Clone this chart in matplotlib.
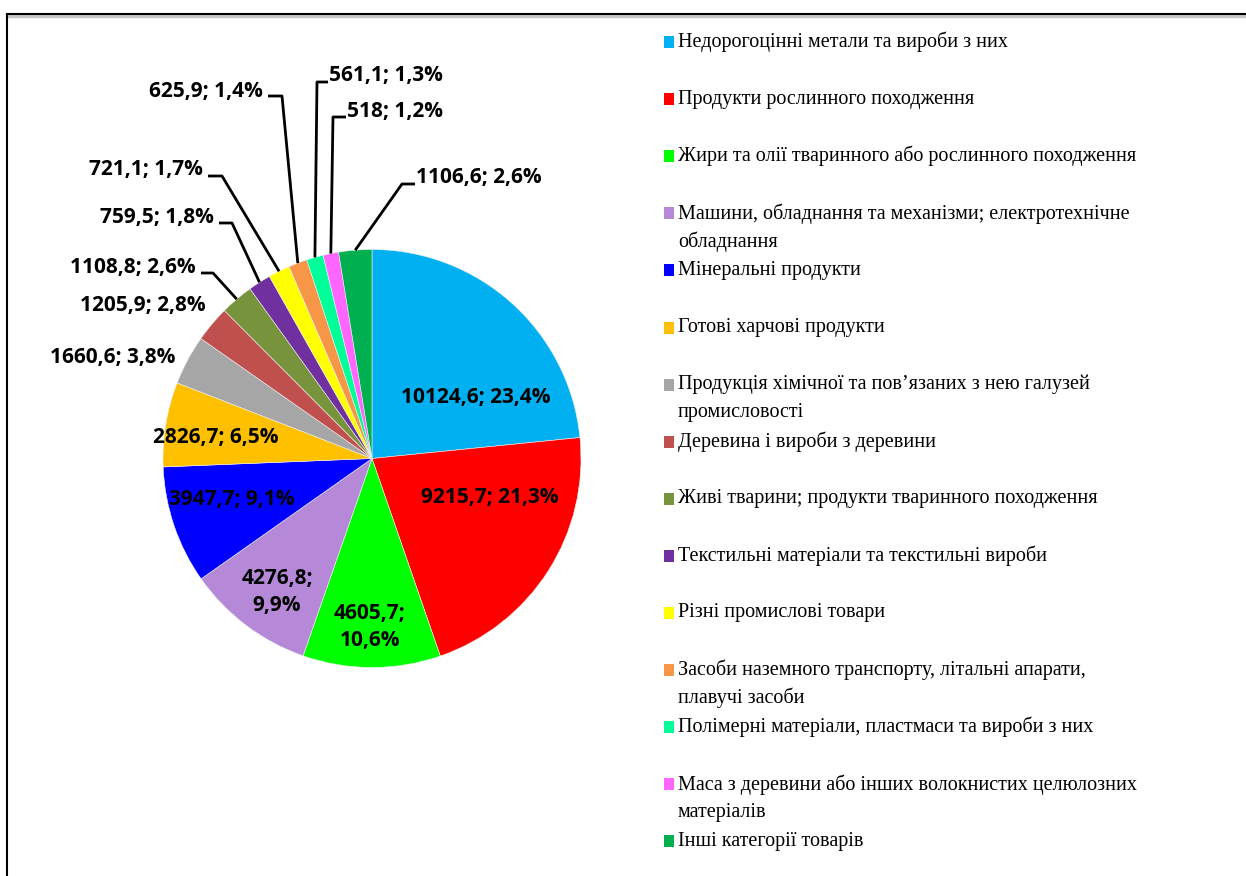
import numpy as np
import matplotlib.pyplot as plt
from matplotlib.lines import Line2D
from matplotlib.patches import Rectangle

W, H = 1246, 876

categories = [
    'Недорогоцінні метали та вироби з них',
    'Продукти рослинного походження',
    'Жири та олії тваринного або рослинного походження',
    'Машини, обладнання та механізми; електротехнічне\nобладнання',
    'Мінеральні продукти',
    'Готові харчові продукти',
    'Продукція хімічної та пов’язаних з нею галузей\nпромисловості',
    'Деревина і вироби з деревини',
    'Живі тварини; продукти тваринного походження',
    'Текстильні матеріали та текстильні вироби',
    'Різні промислові товари',
    'Засоби наземного транспорту, літальні апарати,\nплавучі засоби',
    'Полімерні матеріали, пластмаси та вироби з них',
    'Маса з деревини або інших волокнистих целюлозних\nматеріалів',
    'Інші категорії товарів',
]
values = [10124.6, 9215.7, 4605.7, 4276.8, 3947.7, 2826.7, 1660.6, 1205.9,
          1108.8, 759.5, 721.1, 625.9, 561.1, 518, 1106.6]
colors = ['#00B0F0', '#FF0000', '#00FF00', '#B689D8', '#0000FF', '#FFC000',
          '#A6A6A6', '#C0504D', '#77933C', '#7030A0', '#FFFF00', '#F79646',
          '#00FF99', '#FF66FF', '#00B050']

# label layout in pixels: (x, y, ha, elbow or None)
label_pos = [
    (476, 398, 'center', None),
    (490, 498, 'center', None),
    (370, 627, 'center', None),
    (277, 592, 'center', None),
    (232, 500, 'center', None),
    (216, 437, 'center', None),
    (175, 358, 'right', None),
    (206, 306, 'right', None),
    (196, 267, 'right', (213, 273)),
    (214, 217, 'right', (232, 223)),
    (203, 169, 'right', (222, 176)),
    (263, 91, 'right', (282, 96)),
    (329, 75, 'left', (317, 82)),
    (347, 112, 'left', (333, 117)),
    (416, 178, 'left', (402, 184)),
]
wrapped = {2, 3}

cx, cy, r = 372, 458.5, 209

total = sum(values)


def fmt(v):
    return ('%g' % v).replace('.', ',')


fig = plt.figure(figsize=(12.46, 8.76), dpi=100)
ax = fig.add_axes([0, 0, 1, 1])
wedges, _ = ax.pie(values, colors=colors, startangle=90, counterclock=False,
                   center=(cx, H - cy), radius=r,
                   wedgeprops=dict(linewidth=0.4, edgecolor='#f0f0f0'))
ax.set_xlim(0, W)
ax.set_ylim(0, H)
ax.set_aspect('equal')
ax.axis('off')

for i, (w, v) in enumerate(zip(wedges, values)):
    p = ('%.1f' % (v / total * 100)).replace('.', ',')
    sep = ';\n' if i in wrapped else '; '
    s = f'{fmt(v)}{sep}{p}%'
    x, y, ha, elbow = label_pos[i]
    ax.text(x, H - y, s, ha=ha, va='center', fontsize=15, fontweight='bold',
            family='Open Sans', linespacing=1.35, color='black')
    if elbow is not None:
        ang = np.deg2rad((w.theta1 + w.theta2) / 2)
        ex = cx + r * np.cos(ang)
        ey = (H - cy) + r * np.sin(ang)
        tx = x + 5 if ha == 'right' else x - 1
        ax.plot([ex, elbow[0], tx], [ey, H - elbow[1], H - elbow[1]],
                color='black', lw=2, solid_capstyle='butt')

# legend drawn by hand
for i, (name, c) in enumerate(zip(categories, colors)):
    y = 42 + 57.1 * i
    ax.add_patch(Rectangle((664, H - y - 6), 10, 12, color=c, lw=0))
    for k, line in enumerate(name.split('\n')):
        ax.text(678, H - y - 28 * k, line, ha='left', va='center',
                fontsize=14.5, family='Liberation Serif', color='black')

# frame
fig.add_artist(Line2D([7 / W, 1], [1 - 16 / H, 1 - 16 / H], color='#c8c8c8', lw=2.5))
fig.add_artist(Line2D([7 / W, 1], [1 - 14 / H, 1 - 14 / H], color='black', lw=1.5))
fig.add_artist(Line2D([7 / W, 7 / W], [0, 1 - 14 / H], color='black', lw=1.5))

fig.savefig('out.png', dpi=100)
plt.close()
